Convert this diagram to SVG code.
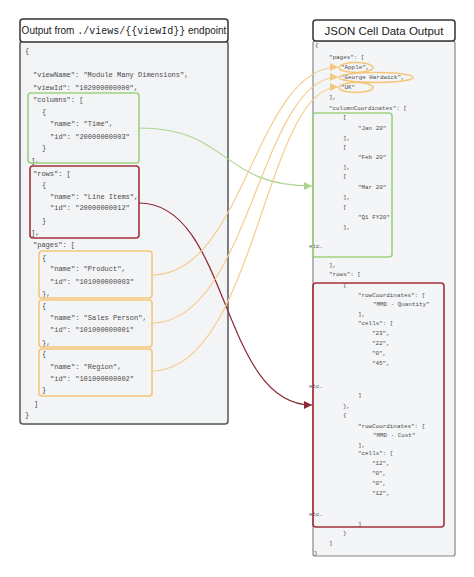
<svg xmlns="http://www.w3.org/2000/svg" width="474" height="577" viewBox="0 0 474 577">
<style>
.title{font-family:"Liberation Sans",Arial,sans-serif;font-size:11.5px;fill:#222}
.ltitle{font-family:"Liberation Sans",Arial,sans-serif;font-size:10px;fill:#222}
.mono{font-family:"Liberation Mono","Courier New",monospace}
.lt{font-family:"Liberation Mono","Courier New",monospace;font-size:7px;fill:#4a4a4a}
.rt{font-family:"Liberation Mono","Courier New",monospace;font-size:5.9px;fill:#4a4a4a}
.hdr{fill:#fff;stroke:#333;stroke-width:1.5}
.body{fill:#f3f4f6;stroke:#555;stroke-width:1.5}
.green{fill:none;stroke:#9fd27f;stroke-width:1.6}
.red{fill:none;stroke:#a3303c;stroke-width:1.6}
.orange{fill:none;stroke:#f5c67a;stroke-width:1.6}
.cg{fill:none;stroke:#a9d68c;stroke-width:1.2}
.cr{fill:none;stroke:#8e2a35;stroke-width:1.2}
.co{fill:none;stroke:#f3cd8e;stroke-width:1.2}
</style>
<defs>
<marker id="ag" markerUnits="userSpaceOnUse" markerWidth="9" markerHeight="8" refX="8" refY="4" orient="auto"><path d="M0,0 L8,4 L0,8 Z" fill="#a9d68c"/></marker>
<marker id="ar" markerUnits="userSpaceOnUse" markerWidth="9" markerHeight="8" refX="8" refY="4" orient="auto"><path d="M0,0 L8,4 L0,8 Z" fill="#8e2a35"/></marker>
<marker id="ao" markerUnits="userSpaceOnUse" markerWidth="9" markerHeight="8" refX="8" refY="4" orient="auto"><path d="M0,0 L8,4 L0,8 Z" fill="#f3c77f"/></marker>
</defs>
<rect width="474" height="577" fill="#fff"/>

<g id="left-panel">
<rect class="body" x="20" y="41" width="208" height="383" rx="3"/>
<rect class="hdr" x="20" y="19" width="208" height="23" rx="3"/>
<text class="ltitle" x="124" y="34" text-anchor="middle">Output from <tspan class="mono">./views/{{viewId}}</tspan> endpoint</text>
<g class="lt">
<text x="25" y="53">{</text>
<text x="33" y="76.5">"viewName": "Module Many Dimensions",</text>
<text x="33" y="89.5">"viewId": "102000000000",</text>
<text x="33" y="101.5">"columns": [</text>
<text x="42" y="113.5">{</text>
<text x="50" y="125.5">"name": "Time",</text>
<text x="50" y="138.5">"id": "20000000003"</text>
<text x="42" y="149.5">}</text>
<text x="31" y="162.5">],</text>
<text x="33" y="175.5">"rows": [</text>
<text x="42" y="186.5">{</text>
<text x="50" y="198.5">"name": "Line Items",</text>
<text x="50" y="209.5">"id": "20000000012"</text>
<text x="42" y="222.5">}</text>
<text x="31" y="234.5">],</text>
<text x="33" y="246.5">"pages": [</text>
<text x="42" y="259.5">{</text>
<text x="50" y="270.5">"name": "Product",</text>
<text x="50" y="283.5">"id": "101000000003"</text>
<text x="42" y="295.5">},</text>
<text x="42" y="307.5">{</text>
<text x="50" y="319.5">"name": "Sales Person",</text>
<text x="50" y="331.5">"id": "101000000001"</text>
<text x="42" y="344.5">},</text>
<text x="42" y="355.5">{</text>
<text x="50" y="368.5">"name": "Region",</text>
<text x="50" y="380.5">"id": "101000000002"</text>
<text x="42" y="391.5">}</text>
<text x="34" y="405.5">]</text>
<text x="25" y="416.5">}</text>
</g>
</g>
<g id="left-columns"><rect class="green" x="28" y="93" width="111" height="70" rx="3"/></g>
<g id="left-rows"><rect class="red" x="30" y="166" width="109" height="72" rx="3"/></g>
<g id="left-page-product"><rect class="orange" x="39" y="251" width="113" height="47" rx="3"/></g>
<g id="left-page-sales"><rect class="orange" x="39" y="300" width="113" height="47" rx="3"/></g>
<g id="left-page-region"><rect class="orange" x="39" y="349" width="113" height="47" rx="3"/></g>

<g id="right-panel">
<rect x="313" y="41" width="142" height="515" rx="2" fill="#f4f5f7" stroke="#888" stroke-width="1.2"/>
<rect class="hdr" x="313" y="20" width="142" height="21" rx="3"/>
<text class="title" x="384" y="34.5" text-anchor="middle">JSON Cell Data Output</text>
<g class="rt">
<text x="315" y="47">{</text>
<text x="329" y="59">"pages": [</text>
<text x="341" y="69">"Apple",</text>
<text x="341" y="79">"George Hardwick",</text>
<text x="341" y="89">"UK"</text>
<text x="329" y="99">],</text>
<text x="329" y="110">"columnCoordinates": [</text>
<text x="343" y="119">[</text>
<text x="358" y="130">"Jan 20"</text>
<text x="343" y="140">],</text>
<text x="343" y="149">[</text>
<text x="358" y="159">"Feb 20"</text>
<text x="343" y="169">],</text>
<text x="343" y="178">[</text>
<text x="358" y="189">"Mar 20"</text>
<text x="343" y="199">],</text>
<text x="343" y="209">[</text>
<text x="358" y="219">"Q1 FY20"</text>
<text x="343" y="229">],</text>
<text x="309" y="248">etc.</text>
<text x="329" y="267">],</text>
<text x="329" y="276">"rows": [</text>
<text x="343" y="287">{</text>
<text x="358" y="297">"rowCoordinates": [</text>
<text x="373" y="306">"MMD - Quantity"</text>
<text x="358" y="316">],</text>
<text x="358" y="325">"cells": [</text>
<text x="372" y="335">"23",</text>
<text x="372" y="345">"22",</text>
<text x="372" y="355">"0",</text>
<text x="372" y="365">"45",</text>
<text x="309" y="388">etc.</text>
<text x="358" y="397">]</text>
<text x="343" y="408">},</text>
<text x="343" y="417">{</text>
<text x="358" y="428">"rowCoordinates": [</text>
<text x="373" y="437">"MMD - Cost"</text>
<text x="358" y="447">],</text>
<text x="358" y="455">"cells": [</text>
<text x="372" y="465">"12",</text>
<text x="372" y="475">"0",</text>
<text x="372" y="485">"0",</text>
<text x="372" y="495">"12",</text>
<text x="309" y="516">etc.</text>
<text x="358" y="526">]</text>
<text x="343" y="535">}</text>
<text x="329" y="545">]</text>
<text x="314" y="555">}</text>
</g>
</g>
<g id="right-apple"><ellipse class="orange" cx="356" cy="67.5" rx="17" ry="5"/></g>
<g id="right-george"><ellipse class="orange" cx="376" cy="77.5" rx="37" ry="5"/></g>
<g id="right-uk"><ellipse class="orange" cx="356" cy="87.5" rx="17" ry="5"/></g>
<g id="right-columns"><rect class="green" x="313" y="113" width="79" height="144" rx="3"/></g>
<g id="right-rows"><rect class="red" x="313" y="283" width="131" height="244" rx="3"/></g>

<g id="connectors">
<path class="cg" d="M139,128 C230,128 220,186 312,186" marker-end="url(#ag)"/>
<path class="cr" d="M139,203 C230,203 220,405 312,405" marker-end="url(#ar)"/>
<path class="co" d="M152,275 C245,275 255,67 338,67" marker-end="url(#ao)"/>
<path class="co" d="M152,323 C250,323 260,77 338,77" marker-end="url(#ao)"/>
<path class="co" d="M152,371 C255,371 265,87 338,87" marker-end="url(#ao)"/>
</g>
</svg>
